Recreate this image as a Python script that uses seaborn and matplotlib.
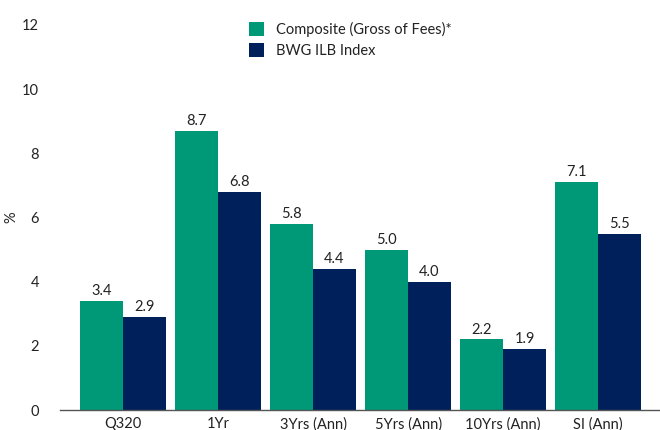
import matplotlib
matplotlib.use("Agg")
import matplotlib.pyplot as plt
import seaborn as sns
import pandas as pd

categories = ["Q320", "1Yr", "3Yrs (Ann)", "5Yrs (Ann)", "10Yrs (Ann)", "SI (Ann)"]
composite = [3.4, 8.7, 5.8, 5.0, 2.2, 7.1]
index_vals = [2.9, 6.8, 4.4, 4.0, 1.9, 5.5]
series_names = ["Composite (Gross of Fees)*", "BWG ILB Index"]
colors = ["#009977", "#00205B"]
y_ticks = [0, 2, 4, 6, 8, 10, 12]

df = pd.DataFrame({
    "Period": categories * 2,
    "Value": composite + index_vals,
    "Series": [series_names[0]] * len(categories) + [series_names[1]] * len(categories),
})

sns.set_theme(style="white")
plt.rcParams["font.family"] = ["Lato", "DejaVu Sans"]

fig = plt.figure(figsize=(6.6, 4.3), dpi=100)
ax = fig.add_axes([0.091, 0.0465, 0.909, 0.8955])

sns.barplot(data=df, x="Period", y="Value", hue="Series", palette=colors,
            width=0.9, ax=ax, saturation=1, edgecolor="none", linewidth=0)

for cont in ax.containers:
    ax.bar_label(cont, fmt="%.1f", padding=2, fontsize=10.5, color="#222222")

ax.set_ylim(0, 12)
ax.set_xlim(-0.663, 5.65)
ax.set_yticks(y_ticks)
ax.set_yticklabels([str(t) for t in y_ticks])
ax.set_xlabel("")
ax.set_ylabel("%", fontsize=10.5, color="#222222")
ax.yaxis.set_label_coords(-0.07, 0.5)
ax.tick_params(axis="both", length=0, labelsize=10.5, colors="#222222")
ax.tick_params(axis="y", pad=15)
ax.tick_params(axis="x", pad=5)
for s in ["top", "right", "left"]:
    ax.spines[s].set_visible(False)
ax.spines["bottom"].set_color("#555555")
ax.spines["bottom"].set_linewidth(1)

leg = ax.legend(loc="upper left", bbox_to_anchor=(0.358, 0.98), bbox_transform=fig.transFigure,
                frameon=False, fontsize=10.5, handlelength=1.0, handleheight=1.1,
                handletextpad=0.8, labelspacing=0.45)
for t in leg.get_texts():
    t.set_color("#222222")

fig.savefig("out.png", dpi=100)
